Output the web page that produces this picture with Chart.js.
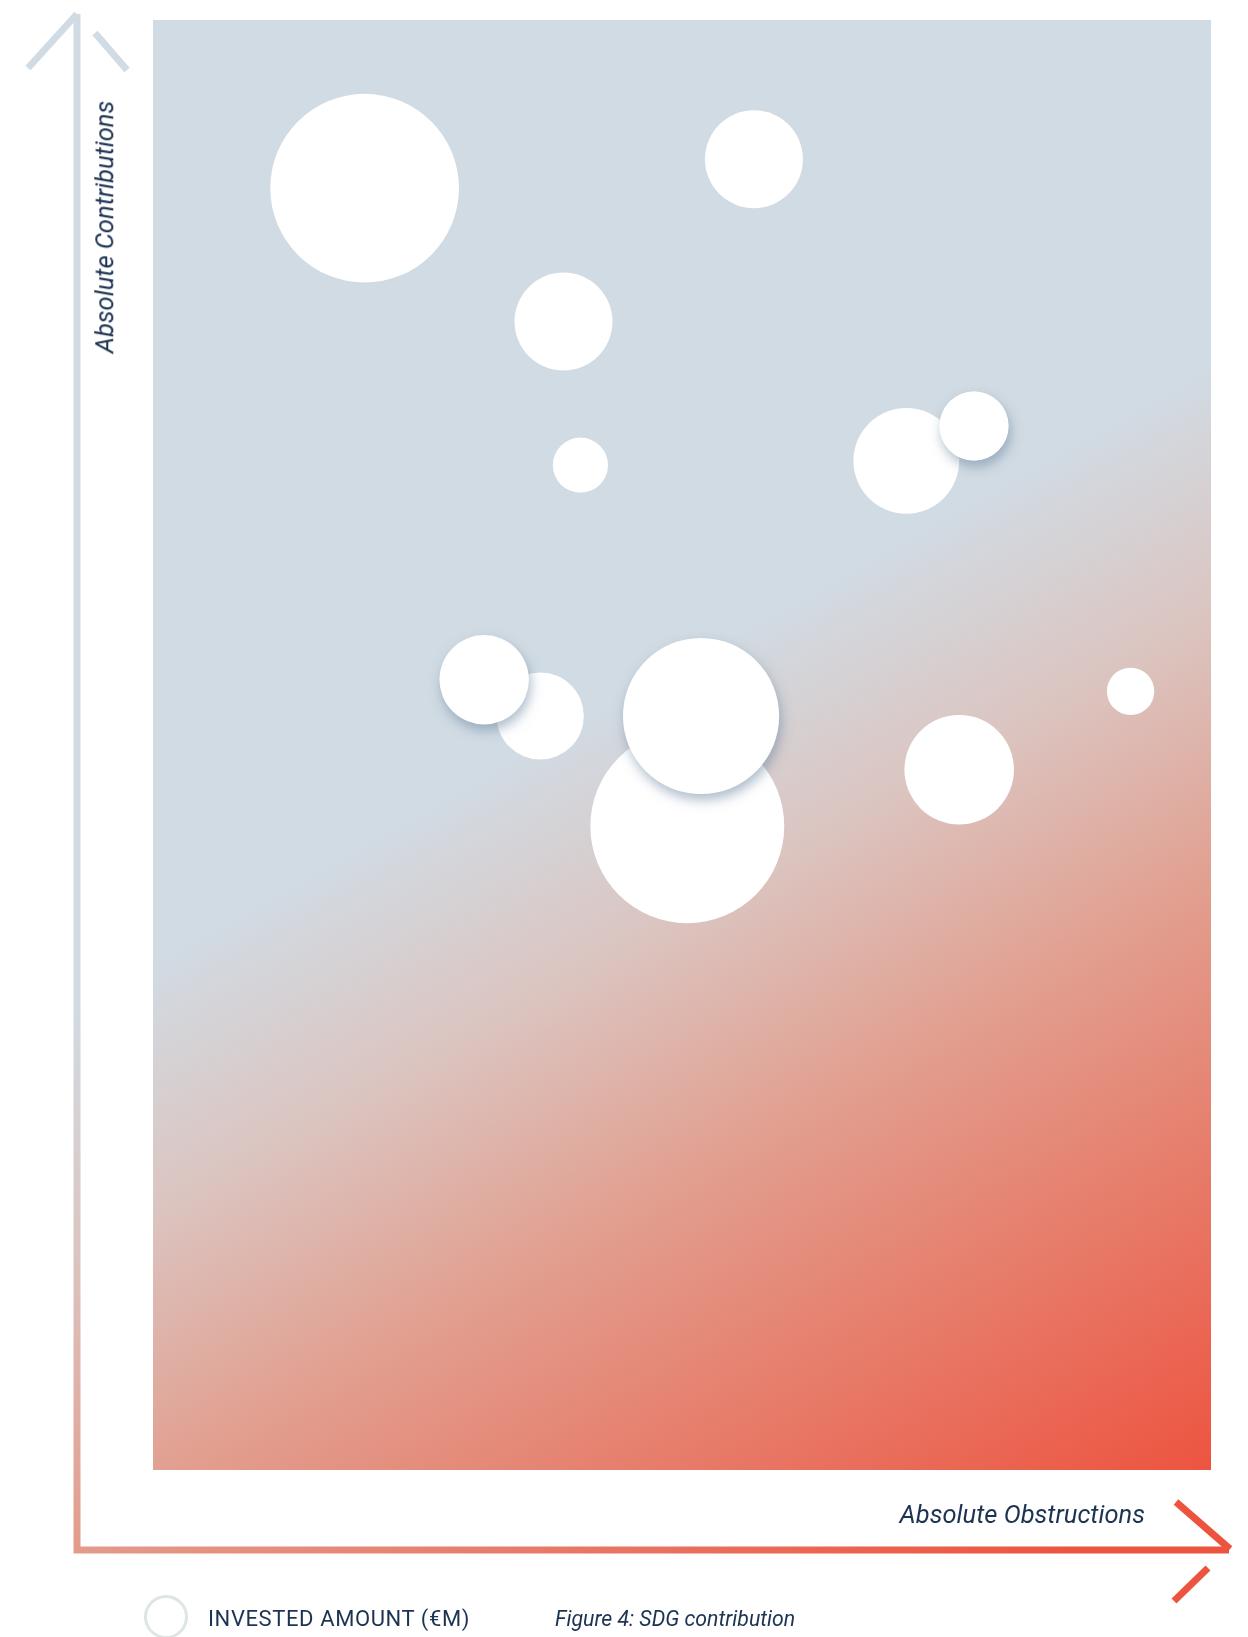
<!DOCTYPE html>
<html>
<head>
<meta charset="utf-8">
<script src="https://cdn.jsdelivr.net/npm/chart.js@4.4.1/dist/chart.umd.min.js"></script>
<style>
  html, body { margin: 0; padding: 0; background: #fff; }
  #wrap { position: relative; width: 1248px; height: 1637px; font-family: Roboto, "Noto Sans", sans-serif; color: #1d3352; }
  #sdgChart { position: absolute; left: 0; top: 0; }
  .axis-title { position: absolute; font-style: italic; font-size: 25.5px; white-space: nowrap; line-height: 1; }
  #yTitle { left: 105px; top: 227px; transform: translate(-50%, -50%) rotate(-90deg); }
  #xTitle { right: 103px; top: 1515px; transform: translateY(-50%); }
  .legend { position: absolute; top: 1619px; transform: translateY(-50%); white-space: nowrap; line-height: 1; }
  #legendDot { top: 1617px; left: 144px; width: 38px; height: 38px; border: 3px solid #dde6e3; border-radius: 50%; box-sizing: content-box; }
  #legendText { left: 208px; font-size: 22px; letter-spacing: 0.6px; }
  #caption { left: 555px; font-size: 21.3px; font-style: italic; }
</style>
</head>
<body>
<div id="wrap">
  <canvas id="sdgChart" width="1248" height="1637"></canvas>
  <div class="axis-title" id="yTitle">Absolute Contributions</div>
  <div class="axis-title" id="xTitle">Absolute Obstructions</div>
  <div class="legend" id="legendDot"></div>
  <div class="legend" id="legendText">INVESTED AMOUNT (€M)</div>
  <div class="legend" id="caption">Figure 4: SDG contribution</div>
</div>
<script>
// values (axes have no ticks, so 0-100 on both)
const obstructions = [20.0, 56.8, 38.8, 40.4, 71.2, 77.6, 31.3, 36.6, 51.8, 50.5, 92.4, 76.2];
const contributions = [88.4, 90.4, 79.2, 69.3, 69.6, 72.0, 54.5, 52.0, 52.0, 44.4, 53.7, 48.3];
const invested = [89, 24, 24, 7.6, 28, 12, 20, 19, 61, 94, 5.6, 30];
// bubbles that sit on top of a neighbour (drawn with a shadow)
const frontIdx = [5, 6, 8];

const bubbleRadius = (amount) => 10 * Math.sqrt(amount);

const toPoint = (i) => ({ x: obstructions[i], y: contributions[i], r: bubbleRadius(invested[i]) });
const backPoints = invested.map((v, i) => i).filter(i => !frontIdx.includes(i)).map(toPoint);
const frontPoints = frontIdx.map(toPoint);

// same diagonal gradient is used for the plot and the arrows
const makeGradient = (ctx, area) => {
  const g = ctx.createLinearGradient(area.left, area.top, area.left + 875, area.top + 1553);
  g.addColorStop(0, '#d1dbe3');
  g.addColorStop(0.46, '#d1dbe3');
  g.addColorStop(0.58, '#dbc5c1');
  g.addColorStop(0.72, '#e29d8d');
  g.addColorStop(1, '#ed5440');
  return g;
};

const backdrop = {
  id: 'backdrop',
  beforeDatasetsDraw(chart) {
    const { ctx, chartArea: a } = chart;
    ctx.save();
    ctx.fillStyle = makeGradient(ctx, a);
    ctx.fillRect(a.left, a.top, a.right - a.left, a.bottom - a.top);
    ctx.restore();
  },
  afterDraw(chart) {
    const { ctx, chartArea: a } = chart;
    const ax = a.left - 76;   // vertical axis line
    const ay = a.bottom + 80; // horizontal axis line
    ctx.save();
    ctx.strokeStyle = makeGradient(ctx, a);
    ctx.lineWidth = 7;
    ctx.lineCap = 'butt';
    ctx.lineJoin = 'miter';
    const seg = (x1, y1, x2, y2) => { ctx.beginPath(); ctx.moveTo(x1, y1); ctx.lineTo(x2, y2); ctx.stroke(); };
    // axis lines
    ctx.beginPath();
    ctx.moveTo(ax, a.top - 6);
    ctx.lineTo(ax, ay);
    ctx.lineTo(a.right + 18, ay);
    ctx.stroke();
    // top arrow (split chevron)
    seg(ax, a.top - 6, ax - 49, a.top + 48);
    seg(ax + 18, a.top + 13, ax + 50, a.top + 50);
    // right arrow (split chevron)
    seg(a.right - 35, ay - 48, a.right + 19, ay - 1);
    seg(a.right - 3, ay + 18, a.right - 37, ay + 51);
    ctx.restore();
  }
};

const shadowed = {
  id: 'shadowed',
  beforeDatasetDraw(chart, args) {
    if (args.index !== 1) return;
    const ctx = chart.ctx;
    ctx.save();
    ctx.shadowColor = 'rgba(95, 125, 155, 0.5)';
    ctx.shadowBlur = 12;
    ctx.shadowOffsetX = 2;
    ctx.shadowOffsetY = 6;
  },
  afterDatasetDraw(chart, args) {
    if (args.index !== 1) return;
    chart.ctx.restore();
  }
};

const ctx = document.getElementById('sdgChart').getContext('2d');
const chart = new Chart(ctx, {
  type: 'bubble',
  data: {
    datasets: [
      { label: 'Invested amount', data: backPoints, backgroundColor: '#ffffff', borderWidth: 0, order: 2 },
      { label: 'Invested amount (front)', data: frontPoints, backgroundColor: '#ffffff', borderWidth: 0, order: 1 }
    ]
  },
  options: {
    responsive: false,
    animation: false,
    events: [],
    layout: { autoPadding: false, padding: { left: 153, top: 20, right: 37, bottom: 167 } },
    scales: {
      x: { display: false, min: 0, max: 100 },
      y: { display: false, min: 0, max: 100 }
    },
    plugins: {
      legend: { display: false },
      tooltip: { enabled: false }
    },
    elements: { point: { hoverRadius: 0, hoverBorderWidth: 0 } }
  },
  plugins: [backdrop, shadowed]
});
</script>
</body>
</html>
